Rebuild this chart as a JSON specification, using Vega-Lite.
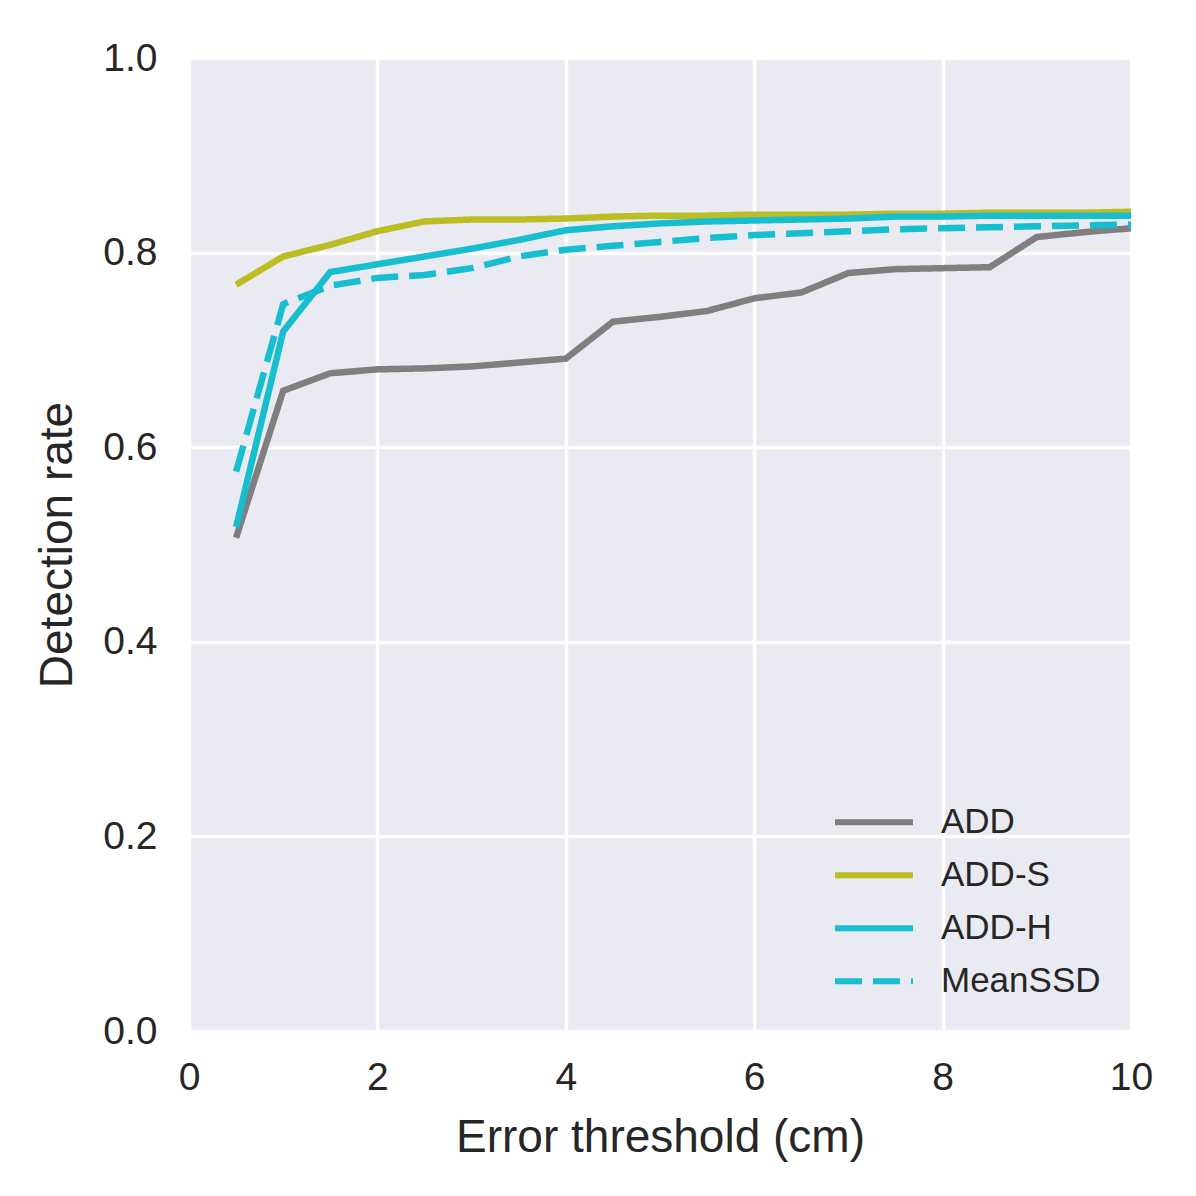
{
  "$schema": "https://vega.github.io/schema/vega-lite/v6.json",
  "autosize": {"type": "none"},
  "padding": {"left": 189, "top": 58, "right": 65, "bottom": 165},
  "width": 942,
  "height": 973,
  "background": "white",
  "config": {
    "view": {"fill": "#EAEAF2", "stroke": null},
    "font": "Liberation Sans",
    "axis": {
      "domain": false,
      "ticks": false,
      "grid": true,
      "gridColor": "white",
      "gridWidth": 3.5,
      "labelFont": "Liberation Sans",
      "labelFontSize": 39,
      "labelColor": "#262626",
      "titleFont": "Liberation Sans",
      "titleFontSize": 46,
      "titleFontWeight": "normal",
      "titleColor": "#262626"
    }
  },
  "data": {
    "values": [
      {"method": "ADD", "x": 0.5, "y": 0.507}, {"method": "ADD", "x": 1, "y": 0.658}, {"method": "ADD", "x": 1.5, "y": 0.676}, {"method": "ADD", "x": 2, "y": 0.680}, {"method": "ADD", "x": 2.5, "y": 0.681}, {"method": "ADD", "x": 3, "y": 0.683}, {"method": "ADD", "x": 3.5, "y": 0.687}, {"method": "ADD", "x": 4, "y": 0.691}, {"method": "ADD", "x": 4.5, "y": 0.729}, {"method": "ADD", "x": 5, "y": 0.734}, {"method": "ADD", "x": 5.5, "y": 0.740}, {"method": "ADD", "x": 6, "y": 0.753}, {"method": "ADD", "x": 6.5, "y": 0.759}, {"method": "ADD", "x": 7, "y": 0.779}, {"method": "ADD", "x": 7.5, "y": 0.783}, {"method": "ADD", "x": 8, "y": 0.784}, {"method": "ADD", "x": 8.5, "y": 0.785}, {"method": "ADD", "x": 9, "y": 0.816}, {"method": "ADD", "x": 9.5, "y": 0.821}, {"method": "ADD", "x": 10, "y": 0.825},
      {"method": "ADD-S", "x": 0.5, "y": 0.767}, {"method": "ADD-S", "x": 1, "y": 0.796}, {"method": "ADD-S", "x": 1.5, "y": 0.808}, {"method": "ADD-S", "x": 2, "y": 0.822}, {"method": "ADD-S", "x": 2.5, "y": 0.832}, {"method": "ADD-S", "x": 3, "y": 0.834}, {"method": "ADD-S", "x": 3.5, "y": 0.834}, {"method": "ADD-S", "x": 4, "y": 0.835}, {"method": "ADD-S", "x": 4.5, "y": 0.837}, {"method": "ADD-S", "x": 5, "y": 0.838}, {"method": "ADD-S", "x": 5.5, "y": 0.838}, {"method": "ADD-S", "x": 6, "y": 0.839}, {"method": "ADD-S", "x": 6.5, "y": 0.839}, {"method": "ADD-S", "x": 7, "y": 0.839}, {"method": "ADD-S", "x": 7.5, "y": 0.840}, {"method": "ADD-S", "x": 8, "y": 0.840}, {"method": "ADD-S", "x": 8.5, "y": 0.841}, {"method": "ADD-S", "x": 9, "y": 0.841}, {"method": "ADD-S", "x": 9.5, "y": 0.841}, {"method": "ADD-S", "x": 10, "y": 0.842},
      {"method": "ADD-H", "x": 0.5, "y": 0.518}, {"method": "ADD-H", "x": 1, "y": 0.719}, {"method": "ADD-H", "x": 1.5, "y": 0.780}, {"method": "ADD-H", "x": 2, "y": 0.788}, {"method": "ADD-H", "x": 2.5, "y": 0.796}, {"method": "ADD-H", "x": 3, "y": 0.804}, {"method": "ADD-H", "x": 3.5, "y": 0.813}, {"method": "ADD-H", "x": 4, "y": 0.823}, {"method": "ADD-H", "x": 4.5, "y": 0.827}, {"method": "ADD-H", "x": 5, "y": 0.830}, {"method": "ADD-H", "x": 5.5, "y": 0.832}, {"method": "ADD-H", "x": 6, "y": 0.833}, {"method": "ADD-H", "x": 6.5, "y": 0.834}, {"method": "ADD-H", "x": 7, "y": 0.835}, {"method": "ADD-H", "x": 7.5, "y": 0.837}, {"method": "ADD-H", "x": 8, "y": 0.837}, {"method": "ADD-H", "x": 8.5, "y": 0.838}, {"method": "ADD-H", "x": 9, "y": 0.838}, {"method": "ADD-H", "x": 9.5, "y": 0.838}, {"method": "ADD-H", "x": 10, "y": 0.838},
      {"method": "MeanSSD", "x": 0.5, "y": 0.575}, {"method": "MeanSSD", "x": 1, "y": 0.747}, {"method": "MeanSSD", "x": 1.5, "y": 0.766}, {"method": "MeanSSD", "x": 2, "y": 0.774}, {"method": "MeanSSD", "x": 2.5, "y": 0.777}, {"method": "MeanSSD", "x": 3, "y": 0.784}, {"method": "MeanSSD", "x": 3.5, "y": 0.796}, {"method": "MeanSSD", "x": 4, "y": 0.803}, {"method": "MeanSSD", "x": 4.5, "y": 0.807}, {"method": "MeanSSD", "x": 5, "y": 0.811}, {"method": "MeanSSD", "x": 5.5, "y": 0.815}, {"method": "MeanSSD", "x": 6, "y": 0.818}, {"method": "MeanSSD", "x": 6.5, "y": 0.820}, {"method": "MeanSSD", "x": 7, "y": 0.822}, {"method": "MeanSSD", "x": 7.5, "y": 0.824}, {"method": "MeanSSD", "x": 8, "y": 0.825}, {"method": "MeanSSD", "x": 8.5, "y": 0.826}, {"method": "MeanSSD", "x": 9, "y": 0.827}, {"method": "MeanSSD", "x": 9.5, "y": 0.828}, {"method": "MeanSSD", "x": 10, "y": 0.829}
    ]
  },
  "mark": {"type": "line", "strokeWidth": 6.5, "strokeCap": "butt", "clip": true},
  "encoding": {
    "x": {
      "field": "x", "type": "quantitative",
      "scale": {"domain": [0, 10], "nice": false, "zero": false},
      "axis": {"title": "Error threshold (cm)", "values": [0, 2, 4, 6, 8, 10], "labelPadding": 27, "labelFlush": false, "titleY": 120, "titleBaseline": "alphabetic"}
    },
    "y": {
      "field": "y", "type": "quantitative",
      "scale": {"domain": [0, 1], "nice": false},
      "axis": {"title": "Detection rate", "values": [0, 0.2, 0.4, 0.6, 0.8, 1.0], "format": ".1f", "labelPadding": 32, "labelFlush": false, "titleX": -118, "titleY": 486.5, "titleAngle": 270, "titleBaseline": "alphabetic", "titleAlign": "center"}
    },
    "color": {
      "field": "method", "type": "nominal",
      "scale": {"domain": ["ADD", "ADD-S", "ADD-H", "MeanSSD"], "range": ["#7f7f7f", "#bcbd22", "#17becf", "#17becf"]},
      "legend": {
        "title": null,
        "orient": "none",
        "legendX": 643,
        "legendY": 739,
        "symbolType": "stroke",
        "symbolSize": 6084,
        "symbolStrokeWidth": 6,
        "labelFontSize": 35,
        "labelFont": "Liberation Sans",
        "labelColor": "#262626",
        "labelOffset": 25,
        "clipHeight": 50.5,
        "rowPadding": 2,
        "padding": 0
      }
    },
    "strokeDash": {
      "field": "method", "type": "nominal",
      "scale": {"domain": ["ADD", "ADD-S", "ADD-H", "MeanSSD"], "range": [[1, 0], [1, 0], [1, 0], [27, 11]]},
      "legend": {
        "title": null,
        "orient": "none",
        "legendX": 643,
        "legendY": 739,
        "symbolType": "stroke",
        "symbolSize": 6084,
        "symbolStrokeWidth": 6,
        "labelFontSize": 35,
        "labelFont": "Liberation Sans",
        "labelColor": "#262626",
        "labelOffset": 25,
        "clipHeight": 50.5,
        "rowPadding": 2,
        "padding": 0
      }
    },
    "order": {"field": "x", "type": "quantitative"}
  }
}
